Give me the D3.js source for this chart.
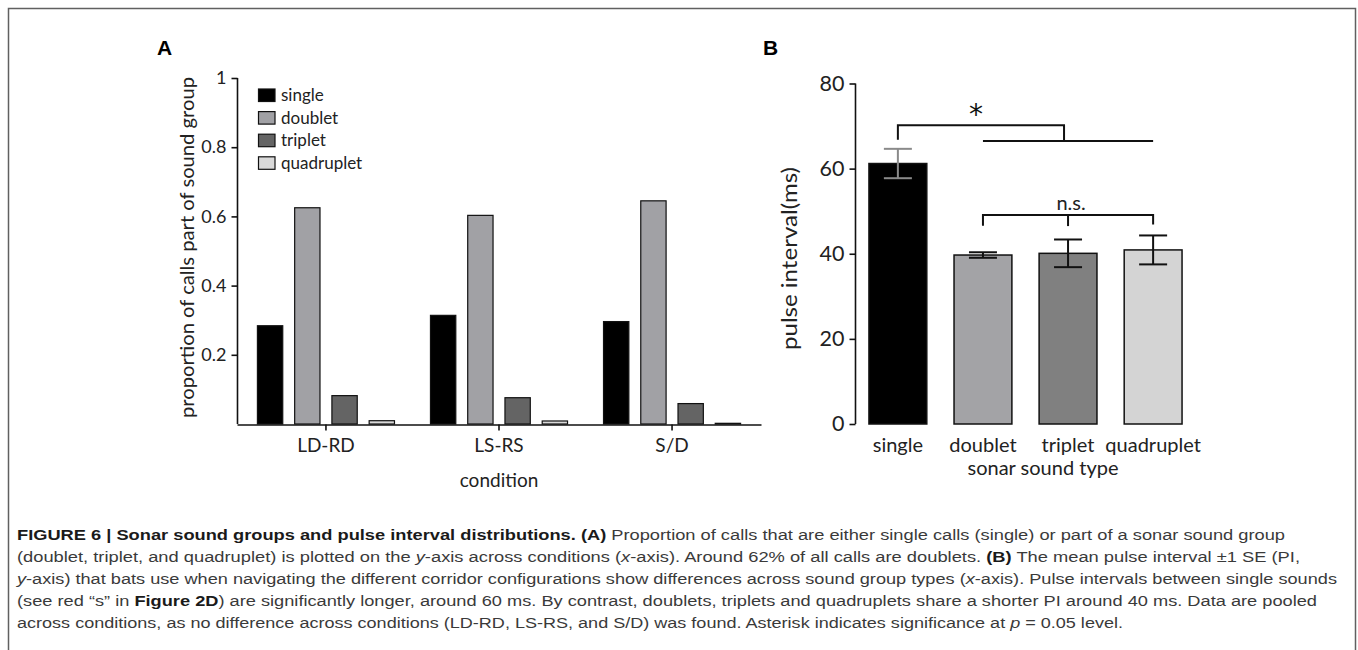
<!DOCTYPE html>
<html><head><meta charset="utf-8">
<script src="https://cdn.jsdelivr.net/npm/d3@7"></script>
<style>html,body{margin:0;padding:0;background:#fff;}svg{display:block;}</style>
</head><body>
<svg id="c" width="1358" height="650"></svg>
<script>
// ---------- data ----------
const conditions = ["LD-RD", "LS-RS", "S/D"];
const soundTypes = ["single", "doublet", "triplet", "quadruplet"];
const propSingle     = [0.284, 0.314, 0.296];
const propDoublet    = [0.625, 0.603, 0.645];
const propTriplet    = [0.082, 0.076, 0.059];
const propQuadruplet = [0.0095, 0.0087, 0.002];
const yTicksA = [0.2, 0.4, 0.6, 0.8, 1];
const yTickLabelsA = ["0.2", "0.4", "0.6", "0.8", "1"];

const piMean = [61.2, 39.7, 40.1, 40.9];
const piSE   = [3.45, 0.65, 3.25, 3.4];
const yTicksB = [0, 20, 40, 60, 80];

const captionLines = [
  [["b","FIGURE 6 | Sonar sound groups and pulse interval distributions. (A)"],["n"," Proportion of calls that are either single calls (single) or part of a sonar sound group"]],
  [["n","(doublet, triplet, and quadruplet) is plotted on the "],["i","y"],["n","-axis across conditions ("],["i","x"],["n","-axis). Around 62% of all calls are doublets. "],["b","(B)"],["n"," The mean pulse interval \u00b11 SE (PI,"]],
  [["i","y"],["n","-axis) that bats use when navigating the different corridor configurations show differences across sound group types ("],["i","x"],["n","-axis). Pulse intervals between single sounds"]],
  [["n","(see red \u201cs\u201d in "],["b","Figure 2D"],["n",") are significantly longer, around 60 ms. By contrast, doublets, triplets and quadruplets share a shorter PI around 40 ms. Data are pooled"]],
  [["n","across conditions, as no difference across conditions (LD-RD, LS-RS, and S/D) was found. Asterisk indicates significance at "],["i","p"],["n"," = 0.05 level."]]
];
const captionEnds = [1285, 1300, 1337, 1317, 1123];

// ---------- styles ----------
const fillsA = {single:"#000000", doublet:"#a1a1a5", triplet:"#646464", quadruplet:"#d9d9d9"};
const fillsB = {single:"#000000", doublet:"#a3a3a6", triplet:"#808080", quadruplet:"#d4d4d4"};
const FONT = "Lato, 'Open Sans', sans-serif";

const svg = d3.select("#c");

// frame
svg.append("path").attr("d","M8.5,660 V8.5 H1355.5 V660")
  .attr("fill","none").attr("stroke","#606060").attr("stroke-width",1.5);

// ================= Panel A =================
const gA = svg.append("g");
const yA = d3.scaleLinear().domain([0,1]).range([424,78]);
const xA0 = d3.scaleBand().domain(conditions).range([237,761]).paddingInner(0.208).paddingOuter(0.118);
const xA1 = d3.scaleBand().domain(soundTypes).range([0, xA0.bandwidth()]).paddingInner(0.32).paddingOuter(0);
const seriesA = {single:propSingle, doublet:propDoublet, triplet:propTriplet, quadruplet:propQuadruplet};

conditions.forEach((c,ci)=>{
  soundTypes.forEach(t=>{
    const v = seriesA[t][ci];
    gA.append("rect")
      .attr("x", xA0(c)+xA1(t)).attr("width", xA1.bandwidth())
      .attr("y", yA(v)).attr("height", yA(0)-yA(v))
      .attr("fill", fillsA[t]).attr("stroke","#111").attr("stroke-width",1.2);
  });
});

// y axis A
const axA = d3.axisLeft(yA).tickValues(yTicksA).tickFormat((d,i)=>yTickLabelsA[i]).tickSize(6).tickPadding(5);
const gyA = gA.append("g").attr("transform","translate(237.5,0)").call(axA);
gyA.select(".domain").attr("d", `M0,${yA(0)}V${yA(1)}`).attr("stroke","#111").attr("stroke-width",1.6);
gyA.selectAll(".tick line").attr("stroke","#111").attr("stroke-width",1.6);
gyA.selectAll(".tick text").attr("font-family",FONT).attr("font-size",18).attr("fill","#222");

// x axis A
const axXA = d3.axisBottom(xA0).tickSize(6).tickSizeOuter(0).tickFormat(()=>"");
const gxA = gA.append("g").attr("transform",`translate(0,${yA(0)+0.5})`).call(axXA);
gxA.select(".domain").attr("stroke","#111").attr("stroke-width",1.6);
gxA.selectAll(".tick line").attr("stroke","#111").attr("stroke-width",1.6);
conditions.forEach(c=>{
  gA.append("text").attr("x", xA0(c)+xA0.bandwidth()/2).attr("y",452)
    .attr("text-anchor","middle").attr("font-family",FONT).attr("font-size",19).attr("fill","#222").text(c);
});
gA.append("text").attr("x", xA0("LS-RS")+xA0.bandwidth()/2).attr("y",487)
  .attr("text-anchor","middle").attr("font-family",FONT).attr("font-size",19).attr("fill","#222").text("condition");
gA.append("text").attr("transform",`translate(194,247.5) rotate(-90)`)
  .attr("text-anchor","middle").attr("font-family",FONT).attr("font-size",19.5).attr("fill","#222")
  .attr("textLength",341).attr("lengthAdjust","spacingAndGlyphs")
  .text("proportion of calls part of sound group");

// legend
soundTypes.forEach((t,i)=>{
  const y0 = 89 + i*22.6;
  gA.append("rect").attr("x",258.5).attr("y",y0).attr("width",16.5).attr("height",12.5)
    .attr("fill",fillsA[t]).attr("stroke","#111").attr("stroke-width",1.2);
  gA.append("text").attr("x",281).attr("y",y0+12).attr("font-family",FONT).attr("font-size",17)
    .attr("fill","#222").text(t);
});

// panel label A
svg.append("text").attr("x",157).attr("y",55).attr("font-family","'Liberation Sans', Arial, sans-serif")
  .attr("font-weight","bold").attr("font-size",21).attr("fill","#000").text("A");

// ================= Panel B =================
const gB = svg.append("g");
const yB = d3.scaleLinear().domain([0,80]).range([424,83.5]);
const xB = d3.scaleBand().domain(soundTypes).range([855,1196]).paddingInner(0.32).paddingOuter(0.164);

soundTypes.forEach((t,i)=>{
  gB.append("rect").attr("x",xB(t)).attr("width",xB.bandwidth())
    .attr("y",yB(piMean[i])).attr("height",yB(0)-yB(piMean[i]))
    .attr("fill",fillsB[t]).attr("stroke","#111").attr("stroke-width",1.5);
});
// error bars
soundTypes.forEach((t,i)=>{
  const cx = xB(t)+xB.bandwidth()/2;
  const hi = yB(piMean[i]+piSE[i]), lo = yB(piMean[i]-piSE[i]);
  const col = i===0 ? "#8a8a8a" : "#111";
  const g = gB.append("g").attr("stroke",col).attr("stroke-width",2).attr("fill","none");
  g.append("line").attr("x1",cx).attr("x2",cx).attr("y1",hi).attr("y2",lo);
  g.append("line").attr("x1",cx-14).attr("x2",cx+14).attr("y1",hi).attr("y2",hi);
  g.append("line").attr("x1",cx-14).attr("x2",cx+14).attr("y1",lo).attr("y2",lo);
});

const axB = d3.axisLeft(yB).tickValues(yTicksB).tickSize(6).tickPadding(5);
const gyB = gB.append("g").attr("transform","translate(855.5,0)").call(axB);
gyB.select(".domain").attr("d",`M0,${yB(0)}V${yB(80)}`).attr("stroke","#111").attr("stroke-width",1.6);
gyB.selectAll(".tick line").attr("stroke","#111").attr("stroke-width",1.6);
gyB.selectAll(".tick text").attr("font-family",FONT).attr("font-size",21.5).attr("fill","#222");

soundTypes.forEach(t=>{
  gB.append("text").attr("x",xB(t)+xB.bandwidth()/2).attr("y",452).attr("text-anchor","middle")
    .attr("font-family",FONT).attr("font-size",20).attr("fill","#222").text(t);
});
gB.append("text").attr("x",1043).attr("y",475).attr("text-anchor","middle")
  .attr("font-family",FONT).attr("font-size",20).attr("fill","#222").text("sonar sound type");
gB.append("text").attr("transform",`translate(797,258.5) rotate(-90)`)
  .attr("text-anchor","middle").attr("font-family",FONT).attr("font-size",22).attr("fill","#222")
  .attr("textLength",183).attr("lengthAdjust","spacingAndGlyphs")
  .text("pulse interval(ms)");

// significance brackets
const cxB = t => xB(t)+xB.bandwidth()/2;
const sig = gB.append("g").attr("stroke","#111").attr("stroke-width",2).attr("fill","none");
sig.append("path").attr("d",`M${cxB("single")},${yB(66.8)}V${yB(70.2)}H${cxB("triplet")-4}V${yB(66.5)}`);
sig.append("path").attr("d",`M${cxB("doublet")},${yB(66.5)}H${cxB("quadruplet")}`);
sig.append("path").attr("d",`M${cxB("doublet")},${yB(46.6)}V${yB(49.1)}H${cxB("quadruplet")}V${yB(46.9)}`);
sig.append("path").attr("d",`M${cxB("triplet")},${yB(49.1)}V${yB(46.5)}`);
gB.append("text").attr("x",976).attr("y",124).attr("text-anchor","middle")
  .attr("font-family","'DejaVu Sans', sans-serif").attr("font-size",28).attr("fill","#111").text("*");
gB.append("text").attr("x",cxB("triplet")+3).attr("y",210).attr("text-anchor","middle")
  .attr("font-family",FONT).attr("font-size",20).attr("fill","#222").text("n.s.");

svg.append("text").attr("x",763).attr("y",55).attr("font-family","'Liberation Sans', Arial, sans-serif")
  .attr("font-weight","bold").attr("font-size",21).attr("fill","#000").text("B");

// ================= Caption =================
const capG = svg.append("g").attr("font-family","'Liberation Sans', Arial, sans-serif").attr("font-size",15.5).attr("fill","#3a3a3a");
captionLines.forEach((line,li)=>{
  const tx = capG.append("text").attr("x",17).attr("y",540 + li*22)
    .attr("textLength", captionEnds[li]-17).attr("lengthAdjust","spacingAndGlyphs");
  line.forEach(([k,s])=>{
    const ts = tx.append("tspan").text(s);
    if (k==="b") ts.attr("font-weight","bold").attr("fill","#1a1a1a");
    if (k==="i") ts.attr("font-style","italic");
  });
});
</script>
</body></html>
